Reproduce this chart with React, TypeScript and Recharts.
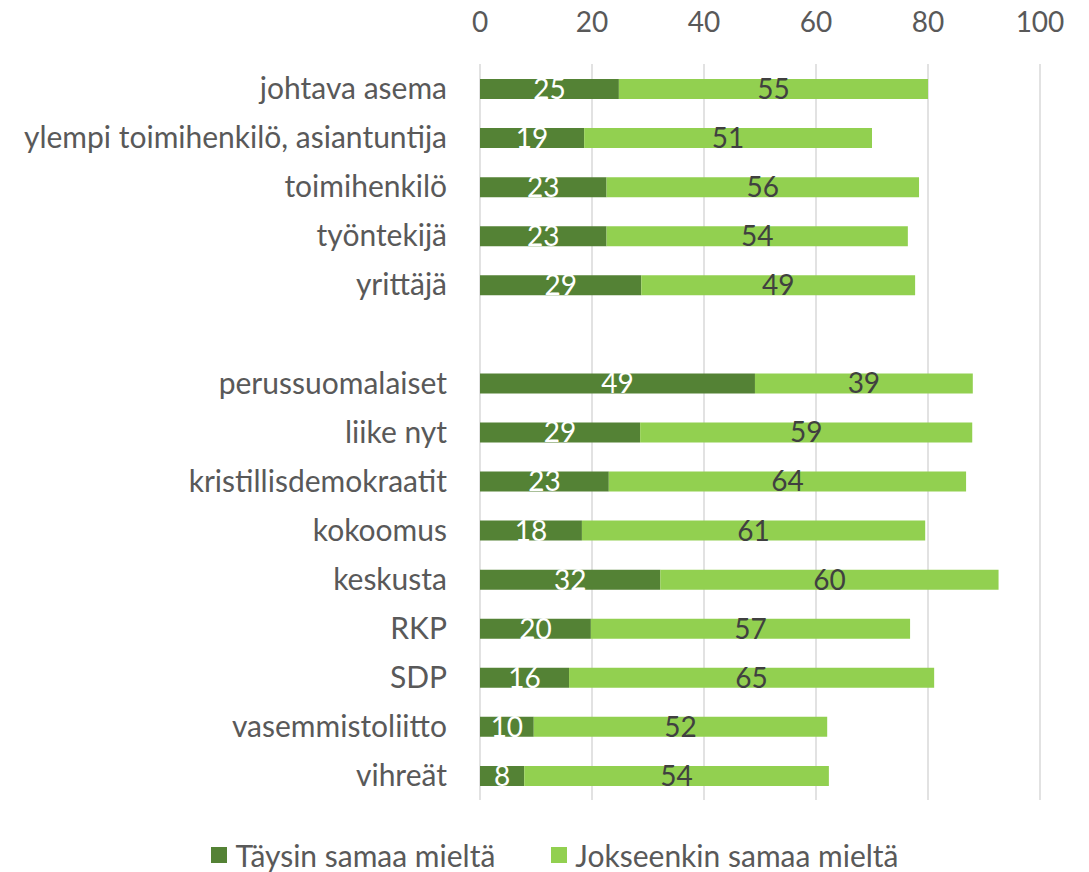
import { BarChart, Bar, XAxis, YAxis, CartesianGrid, Legend, LabelList } from 'recharts';

// groups: occupation block, blank spacer row, then parties
const categories = [
  'johtava asema',
  'ylempi toimihenkilö, asiantuntija',
  'toimihenkilö',
  'työntekijä',
  'yrittäjä',
  '',
  'perussuomalaiset',
  'liike nyt',
  'kristillisdemokraatit',
  'kokoomus',
  'keskusta',
  'RKP',
  'SDP',
  'vasemmistoliitto',
  'vihreät',
];

const taysin = [24.8, 18.6, 22.6, 22.6, 28.8, null, 49.1, 28.6, 23.0, 18.2, 32.2, 19.8, 15.9, 9.6, 7.9];
const jokseenkin = [55.2, 51.4, 55.8, 53.8, 48.9, null, 38.9, 59.3, 63.8, 61.3, 60.4, 57.0, 65.2, 52.4, 54.4];

const xTicks = [0, 20, 40, 60, 80, 100];

const seriesNames = ['Täysin samaa mieltä', 'Jokseenkin samaa mieltä'];
const DARK = '#548235';
const LIGHT = '#92D050';
const FONT = 'Lato, "Noto Sans", sans-serif';
const FS = 28;

const data = categories.map((name, i) => ({
  name,
  taysin: taysin[i],
  jokseenkin: jokseenkin[i],
}));

const fmt = (v: any) => (v == null ? '' : Math.round(Number(v)));

function LegendBox() {
  const items = [
    { label: seriesNames[0], color: DARK },
    { label: seriesNames[1], color: LIGHT },
  ];
  return (
    <div
      style={{
        height: 72,
        display: 'flex',
        justifyContent: 'center',
        alignItems: 'flex-end',
        gap: 56,
        paddingLeft: 70,
        fontFamily: FONT,
        fontSize: 30,
        color: '#595959',
      }}
    >
      {items.map((it) => (
        <div key={it.label} style={{ display: 'flex', alignItems: 'center', marginBottom: -1 }}>
          <span style={{ width: 16, height: 16, background: it.color, display: 'inline-block', marginRight: 8 }} />
          <span>{it.label}</span>
        </div>
      ))}
    </div>
  );
}

export default function App() {
  return (
    <div style={{ position: 'absolute', left: 0, top: 0, width: 1089, height: 872, background: '#fff' }}>
      <BarChart
        width={1089}
        height={872}
        data={data}
        layout="vertical"
        margin={{ top: 0, right: 49, bottom: 0, left: 0 }}
        barSize={20}
      >
        <CartesianGrid horizontal={false} stroke="#d9d9d9" strokeWidth={1.5} />
        <XAxis
          type="number"
          orientation="top"
          domain={[0, 100]}
          ticks={xTicks}
          height={64}
          tickLine={false}
          axisLine={false}
          tickMargin={26}
          tick={{ fill: '#595959', fontSize: FS, fontFamily: FONT }}
        />
        <YAxis
          type="category"
          dataKey="name"
          width={480}
          tickLine={false}
          axisLine={false}
          tickMargin={27}
          interval={0}
          tick={{ fill: '#595959', fontSize: 30, fontFamily: FONT }}
        />
        <Legend verticalAlign="bottom" content={() => <LegendBox />} />
        <Bar dataKey="taysin" name={seriesNames[0]} stackId="a" fill={DARK} isAnimationActive={false}>
          <LabelList
            dataKey="taysin"
            position="center"
            formatter={fmt}
            fill="#ffffff"
            style={{ fontSize: FS, fontFamily: FONT }}
          />
        </Bar>
        <Bar dataKey="jokseenkin" name={seriesNames[1]} stackId="a" fill={LIGHT} isAnimationActive={false}>
          <LabelList
            dataKey="jokseenkin"
            position="center"
            formatter={fmt}
            fill="#404040"
            style={{ fontSize: FS, fontFamily: FONT }}
          />
        </Bar>
      </BarChart>
    </div>
  );
}
